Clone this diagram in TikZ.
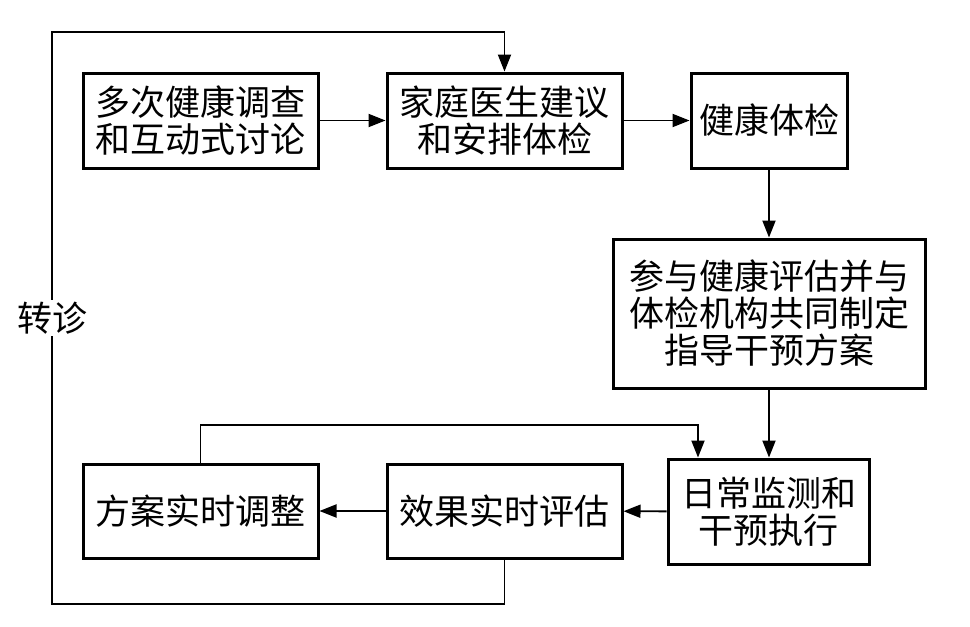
\documentclass[tikz,border=0pt]{standalone}
\usepackage{fontspec}
\newfontfamily\cjk{Noto Sans CJK SC}
\usetikzlibrary{arrows.meta}
\begin{document}
\begin{tikzpicture}[x=1pt,y=-1pt,
  box/.style={draw=black,line width=3pt,inner sep=0pt,align=center,font=\cjk\fontsize{35}{37}\selectfont},
  conn/.style={line width=1.9pt},
  arr/.style={conn,-{Triangle[length=17pt,width=13pt]}},
  lbl/.style={fill=white,inner sep=2pt,font=\cjk\fontsize{35}{37}\selectfont}]
\useasboundingbox[fill=white] (0,0) rectangle (970,627);
\node[box,minimum width=235pt,minimum height=95pt] (b1) at (200.5,120.5) {多次健康调查\\和互动式讨论};
\node[box,minimum width=235pt,minimum height=95pt] (b2) at (504.5,120.5) {家庭医生建议\\和安排体检};
\node[box,minimum width=156pt,minimum height=95pt] (b3) at (769,120.5) {健康体检};
\node[box,minimum width=312pt,minimum height=149pt] (b4) at (769,313.5) {参与健康评估并与\\体检机构共同制定\\指导干预方案};
\node[box,minimum width=201pt,minimum height=105pt] (b5) at (768.5,511.5) {日常监测和\\干预执行};
\node[box,minimum width=235pt,minimum height=94pt] (b6) at (504.5,511) {效果实时评估};
\node[box,minimum width=235pt,minimum height=94pt] (b7) at (200.5,511) {方案实时调整};
\coordinate (t1) at (698,425);
\coordinate (r1) at (52,604);
\coordinate (r2) at (52,32);
\draw[arr] (b1) -- (b2);
\draw[arr] (b2) -- (b3);
\draw[arr] (b3) -- (b4);
\draw[arr] (b4) -- (b4.south |- b5.north);
\draw[arr] (b5) -- (b6);
\draw[arr] (b6) -- (b7);
\draw[arr] (b7.north) |- (t1) -- (t1 |- b5.north);
\draw[arr] (b6.south) |- (r1) -- (r2) -| (b2.north);
\node[lbl] (zz) at (52,318) {转诊};
\end{tikzpicture}
\end{document}
